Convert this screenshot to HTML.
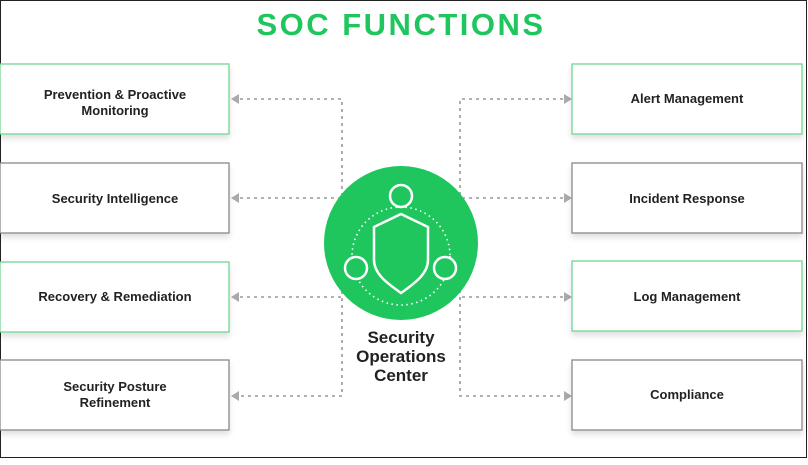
<!DOCTYPE html>
<html><head><meta charset="utf-8"><style>
body{margin:0;width:808px;height:460px;background:#fff;overflow:hidden}
text{font-family:"Liberation Sans",sans-serif;font-weight:bold;fill:#222}
</style></head><body>
<svg width="808" height="460" viewBox="0 0 808 460" xmlns="http://www.w3.org/2000/svg">
<defs><filter id="sh" x="-10%" y="-20%" width="120%" height="150%"><feDropShadow dx="0" dy="4" stdDeviation="3" flood-color="#000" flood-opacity="0.12"/></filter></defs>
<rect x="0.5" y="0.5" width="806" height="457" fill="#fff" stroke="#222" stroke-width="1"/>
<text x="401" y="35" text-anchor="middle" font-size="31" style="fill:#1fc65e;letter-spacing:2.5px">SOC FUNCTIONS</text>
<g stroke="#999" stroke-width="1.6" stroke-dasharray="3,4" fill="none">
<path d="M240 99H342V396H240M240 198H342M240 297H342"/>
<path d="M563 99H460V396H563M563 198H460M563 297H460"/>
</g>
<g fill="#aaa">
<path d="M231 99l8-5v10z"/><path d="M231 198l8-5v10z"/><path d="M231 297l8-5v10z"/><path d="M231 396l8-5v10z"/>
<path d="M572 99l-8-5v10z"/><path d="M572 198l-8-5v10z"/><path d="M572 297l-8-5v10z"/><path d="M572 396l-8-5v10z"/>
</g>
<g filter="url(#sh)" fill="#fff" stroke-width="1.3">
<rect x="0" y="64" width="229" height="70" stroke="#6fd590"/>
<rect x="0" y="163" width="229" height="70" stroke="#888"/>
<rect x="0" y="262" width="229" height="70" stroke="#6fd590"/>
<rect x="0" y="360" width="229" height="70" stroke="#888"/>
<rect x="572" y="64" width="230" height="70" stroke="#6fd590"/>
<rect x="572" y="163" width="230" height="70" stroke="#888"/>
<rect x="572" y="261" width="230" height="70" stroke="#6fd590"/>
<rect x="572" y="360" width="230" height="70" stroke="#888"/>
</g>
<g font-size="13" text-anchor="middle">
<text x="115" y="99">Prevention &amp; Proactive</text><text x="115" y="115">Monitoring</text>
<text x="115" y="203">Security Intelligence</text>
<text x="115" y="301">Recovery &amp; Remediation</text>
<text x="115" y="391">Security Posture</text><text x="115" y="407">Refinement</text>
<text x="687" y="103">Alert Management</text>
<text x="687" y="203">Incident Response</text>
<text x="687" y="301">Log Management</text>
<text x="687" y="399">Compliance</text>
</g>
<circle cx="401" cy="243" r="77" fill="#1fc65e"/>
<circle cx="401" cy="256" r="49" fill="none" stroke="#fff" stroke-width="1.6" stroke-dasharray="1.5,3.5"/>
<g stroke="#fff" stroke-width="2.5" fill="#1fc65e">
<circle cx="401" cy="196" r="11"/>
<circle cx="356" cy="268" r="11"/>
<circle cx="445" cy="268" r="11"/>
<path d="M401 214 L374 227 V260 C374 275 390 285 401 293 C412 285 428 275 428 260 V227 Z"/>
</g>
<g font-size="17" text-anchor="middle">
<text x="401" y="343">Security</text><text x="401" y="362">Operations</text><text x="401" y="381">Center</text>
</g>
</svg>
</body></html>
